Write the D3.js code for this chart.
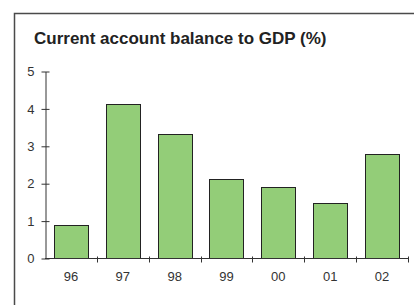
<!DOCTYPE html>
<html><head><meta charset="utf-8">
<script src="https://cdn.jsdelivr.net/npm/d3@7"></script>
<style>body{margin:0;background:#fff}svg{display:block}</style>
</head><body>
<script>
const categories = ["96","97","98","99","00","01","02"];
const values = [0.88, 4.11, 3.31, 2.10, 1.89, 1.46, 2.77];
const yTicks = [0,1,2,3,4,5];
const title = "Current account balance to GDP (%)";

const W = 414, H = 305;
const svg = d3.select("body").append("svg").attr("width", W).attr("height", H);

// frame
svg.append("path").attr("d", `M14.5,${H} V13.5 H${W}`).attr("fill","none")
  .attr("stroke","#4a4a4a").attr("stroke-width",1.5);

svg.append("text").attr("x",34).attr("y",44).text(title)
  .attr("font-family","Liberation Sans, Arial, sans-serif").attr("font-weight","bold")
  .attr("font-size",17).attr("fill","#222");

const x0 = 45, x1 = 408, yTop = 71, yBot = 258;
const x = d3.scaleBand().domain(categories).range([x0, x1]).paddingInner(0.34).paddingOuter(0.17);
const y = d3.scaleLinear().domain([0,5]).range([yBot, yTop]);

const g = svg.append("g");
g.selectAll("rect").data(values).join("rect")
  .attr("x", (d,i)=>Math.round(x(categories[i]))+0.5)
  .attr("y", d=>Math.round(y(d))+0.5)
  .attr("width", Math.round(x.bandwidth()))
  .attr("height", d=>Math.round(y(0))-Math.round(y(d)))
  .attr("fill","#93cd78").attr("stroke","#222").attr("stroke-width",1);

const font = "Liberation Sans, Arial, sans-serif";
// y axis
const yAxis = g.append("g").attr("transform",`translate(${x0+0.5},0.5)`)
  .call(d3.axisLeft(y).tickValues(yTicks).tickFormat(d3.format("d")).tickSize(0).tickPadding(11));
yAxis.select(".domain").attr("stroke","#333");
yAxis.selectAll(".tick").append("line").attr("x1",-4).attr("x2",4).attr("stroke","#333");
yAxis.selectAll("text").attr("font-family",font).attr("font-size",13).attr("fill","#333");

// x axis
const bounds = d3.range(categories.length).map(i => x0 + (i+1)*(x1-x0)/categories.length);
const xAxis = g.append("g").attr("transform",`translate(0,${yBot+0.5})`)
  .call(d3.axisBottom(x).tickSize(0).tickPadding(13));
xAxis.select(".domain").attr("stroke","#333").attr("d",`M${x0},0H${x1}`);
xAxis.selectAll("text").attr("font-family",font).attr("font-size",13).attr("fill","#333");
xAxis.selectAll("line.b").data(bounds).join("line").attr("class","b")
  .attr("x1",d=>Math.round(d)+0.5).attr("x2",d=>Math.round(d)+0.5).attr("y1",-2).attr("y2",4).attr("stroke","#333");
</script>
</body></html>
